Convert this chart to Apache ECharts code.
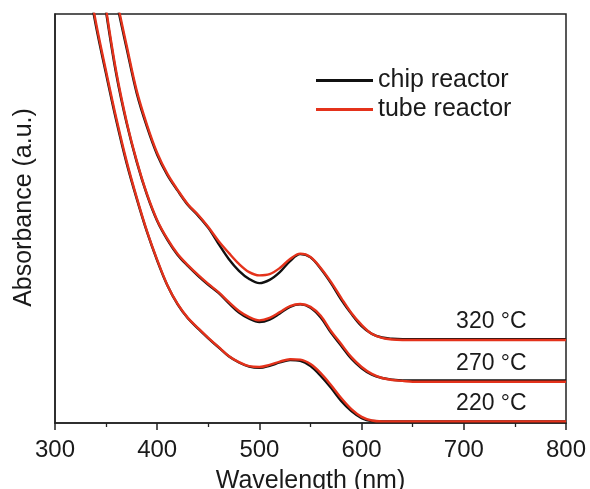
<!DOCTYPE html>
<html>
<head>
<meta charset="utf-8">
<script src="https://cdn.jsdelivr.net/npm/echarts@6/dist/echarts.min.js"></script>
<style>
  html, body { margin: 0; padding: 0; background: #fff; }
  #chart { width: 590px; height: 489px; }
</style>
</head>
<body>
<div id="chart"></div>
<script>
// UV-vis absorbance spectra of nanocrystals grown at three temperatures
const wavelength = [330,340,350,360,370,380,390,400,410,420,430,440,450,460,470,480,490,500,
  510,520,530,540,550,560,570,580,590,600,610,620,630,640,650,700,750,800];

// chip reactor (black)
const chip220 = [1.11,0.972,0.853,0.739,0.636,0.548,0.467,0.397,0.336,0.290,0.256,0.231,0.207,0.185,
  0.163,0.148,0.138,0.135,0.140,0.148,0.154,0.152,0.139,0.115,0.086,0.054,0.029,0.012,0.005,0.004,
  0.004,0.004,0.004,0.004,0.004,0.004];
const chip270 = [1.38,1.18,1.005,0.852,0.734,0.638,0.558,0.494,0.448,0.411,0.384,0.360,0.338,0.318,
  0.293,0.270,0.255,0.247,0.253,0.268,0.284,0.290,0.282,0.258,0.221,0.189,0.157,0.134,0.118,0.110,
  0.106,0.104,0.104,0.104,0.104,0.104];
const chip320 = [1.525,1.325,1.165,1.033,0.917,0.806,0.724,0.656,0.606,0.568,0.533,0.507,0.477,0.438,
  0.401,0.372,0.352,0.342,0.350,0.369,0.396,0.413,0.405,0.377,0.342,0.302,0.267,0.237,0.218,0.209,
  0.206,0.205,0.205,0.205,0.205,0.205];

// tube reactor (red)
const tube220 = [1.12,0.98,0.86,0.745,0.641,0.551,0.469,0.399,0.337,0.291,0.257,0.232,0.208,0.186,
  0.164,0.149,0.139,0.137,0.142,0.150,0.156,0.155,0.144,0.122,0.093,0.061,0.034,0.015,0.006,0.004,
  0.004,0.004,0.004,0.004,0.004,0.004];
const tube270 = [1.389,1.188,1.012,0.858,0.738,0.641,0.560,0.496,0.450,0.413,0.386,0.362,0.340,0.320,
  0.296,0.274,0.259,0.251,0.257,0.271,0.286,0.291,0.284,0.262,0.225,0.193,0.161,0.137,0.120,0.110,
  0.105,0.103,0.101,0.101,0.101,0.101];
const tube320 = [1.535,1.335,1.174,1.041,0.924,0.812,0.729,0.660,0.609,0.570,0.535,0.509,0.479,0.445,
  0.416,0.389,0.369,0.361,0.364,0.379,0.401,0.414,0.406,0.379,0.345,0.306,0.269,0.240,0.218,0.208,
  0.204,0.203,0.203,0.203,0.203,0.203];

const temperatureLabels = ['220 °C', '270 °C', '320 °C'];
const xTicks = { min: 300, max: 800, step: 100 };
const labelWavelength = 727;

const FONT = "'Liberation Sans', Arial, Helvetica, sans-serif";
const INK = '#1a1a1a';
const BLACK = '#111111';
const RED = '#e4321b';

function pairs(values) {
  return wavelength.map((w, i) => [w, values[i]]);
}

function spectrum(name, values, color, tempLabel) {
  const s = {
    name: name,
    type: 'line',
    data: pairs(values),
    smooth: 0.35,
    symbol: 'none',
    showSymbol: false,
    clip: true,
    lineStyle: { color: color, width: 2.4 },
    itemStyle: { color: color },
    emphasis: { disabled: true }
  };
  if (tempLabel) {
    s.markPoint = {
      symbol: 'circle',
      symbolSize: 1,
      itemStyle: { color: 'rgba(0,0,0,0)' },
      data: [{
        coord: [labelWavelength, values[values.length - 1]],
        label: {
          show: true,
          position: 'top',
          distance: 6,
          formatter: tempLabel,
          fontFamily: FONT,
          fontSize: 23,
          color: INK
        }
      }]
    };
  }
  return s;
}

const chart = echarts.init(document.getElementById('chart'), null, { renderer: 'canvas' });

chart.setOption({
  animation: false,
  backgroundColor: '#ffffff',
  textStyle: { fontFamily: FONT },
  grid: {
    left: 55, right: 24, top: 14, bottom: 66,
    containLabel: false,
    outerBoundsMode: 'none',
    show: true, borderColor: '#222', borderWidth: 1.5, backgroundColor: 'transparent'
  },
  legend: {
    orient: 'vertical',
    left: 311,
    top: 63,
    itemWidth: 57,
    itemHeight: 3,
    itemGap: 4,
    selectedMode: false,
    data: [
      { name: 'chip reactor', icon: 'rect', itemStyle: { color: BLACK } },
      { name: 'tube reactor', icon: 'rect', itemStyle: { color: RED } }
    ],
    textStyle: { fontFamily: FONT, fontSize: 25, color: INK, lineHeight: 25 }
  },
  xAxis: {
    type: 'value',
    min: xTicks.min,
    max: xTicks.max,
    interval: xTicks.step,
    name: 'Wavelength (nm)',
    nameLocation: 'middle',
    nameGap: 46,
    nameTextStyle: { fontFamily: FONT, fontSize: 25, color: INK },
    axisLine: { lineStyle: { color: '#222', width: 1.5 } },
    axisTick: { show: true, inside: false, length: 7, lineStyle: { color: '#222', width: 1.5 } },
    minorTick: { show: true, splitNumber: 2, length: 4, lineStyle: { color: '#222', width: 1.3 } },
    splitLine: { show: false },
    minorSplitLine: { show: false },
    axisLabel: { fontFamily: FONT, fontSize: 24, color: INK, margin: 15 }
  },
  yAxis: {
    type: 'value',
    min: 0,
    max: 1,
    name: 'Absorbance (a.u.)',
    nameLocation: 'middle',
    nameGap: 18,
    nameTextStyle: { fontFamily: FONT, fontSize: 25, color: INK, padding: [0, 0, 0, 22] },
    axisLine: { show: true, lineStyle: { color: '#222', width: 1.5 } },
    axisTick: { show: false },
    axisLabel: { show: false },
    splitLine: { show: false }
  },
  series: [
    spectrum('chip reactor', chip220, BLACK),
    spectrum('chip reactor', chip270, BLACK),
    spectrum('chip reactor', chip320, BLACK),
    spectrum('tube reactor', tube220, RED, temperatureLabels[0]),
    spectrum('tube reactor', tube270, RED, temperatureLabels[1]),
    spectrum('tube reactor', tube320, RED, temperatureLabels[2])
  ]
});
</script>
</body>
</html>
